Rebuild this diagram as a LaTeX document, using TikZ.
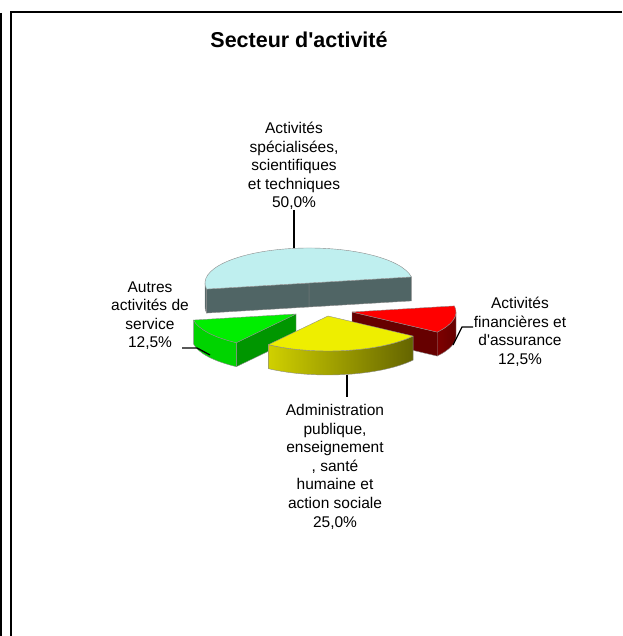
\documentclass[tikz,border=0pt]{standalone}
\usepackage{fontspec}
\setmainfont{Liberation Sans}
\usepackage{tikz}
\usetikzlibrary{calc}
\definecolor{cyantop}{HTML}{BFEFEF}
\definecolor{cyanside}{HTML}{506565}
\definecolor{greentop}{HTML}{00EE00}
\definecolor{greenside}{HTML}{00D400}
\definecolor{greencut}{HTML}{009600}
\definecolor{yellowtop}{HTML}{EEEE00}
\definecolor{yellowside}{HTML}{D0D000}
\definecolor{yellowdark}{HTML}{646400}
\definecolor{redtop}{HTML}{FF0000}
\definecolor{redside}{HTML}{7E0000}
\definecolor{redcut}{HTML}{660000}
\definecolor{edge}{HTML}{8C8C8C}
\tikzset{
  frameline/.style={draw=black, line width=2pt},
  face/.style={draw=edge, line width=0.4pt, line join=round},
  leader/.style={draw=black, line width=1.3pt},
  lbl/.style={font=\fontsize{15.5}{18.6}\selectfont, align=center, inner sep=0pt},
  ttl/.style={font=\bfseries\fontsize{21.5}{25}\selectfont, inner sep=0pt}
}

\begin{document}
\begin{tikzpicture}[x=1pt, y=1pt]
  \useasboundingbox (0,0) rectangle (622,636);
  \def\rx{104} \def\ry{35} \def\h{24}

  % frame
  \draw[frameline] (1,623) -- (1,0);
  \draw[frameline] (622,624) -- (11,624) -- (11,0);
  \node[ttl] (title) at (299,596) {Secteur d\textquotesingle activité};

  % back slice
  \coordinate (cC) at (309,353);
  \filldraw[face, fill=cyanside] (cC) -- ++({\rx*cos(10)},{\ry*sin(10)}) -- ++(0,-\h) -- ++({-\rx*cos(10)},{-\ry*sin(10)}) -- cycle;
  \filldraw[face, fill=cyanside] (cC) -- ++({\rx*cos(190)},{\ry*sin(190)}) -- ++(0,-\h) -- ++({-\rx*cos(190)},{-\ry*sin(190)}) -- cycle;
  \filldraw[face, fill=cyanside] ($(cC)+({\rx*cos(180)},{\ry*sin(180)})$) arc[start angle=180, end angle=190, x radius=\rx, y radius=\ry] -- ++(0,-\h) arc[start angle=190, end angle=180, x radius=\rx, y radius=\ry] -- cycle;
  \filldraw[face, fill=cyantop] (cC) -- ++({\rx*cos(10)},{\ry*sin(10)}) arc[start angle=10, end angle=190, x radius=\rx, y radius=\ry] -- cycle;

  % left slice
  \coordinate (cG) at (296,322);
  \filldraw[face, fill=greencut] (cG) -- ++({\rx*cos(235)},{\ry*sin(235)}) -- ++(0,-\h) -- ++({-\rx*cos(235)},{-\ry*sin(235)}) -- cycle;
  \filldraw[face, fill=greenside] ($(cG)+({\rx*cos(190)},{\ry*sin(190)})$) arc[start angle=190, end angle=235, x radius=\rx, y radius=\ry] -- ++(0,-\h) arc[start angle=235, end angle=190, x radius=\rx, y radius=\ry] -- cycle;
  \filldraw[face, fill=greentop] (cG) -- ++({\rx*cos(190)},{\ry*sin(190)}) arc[start angle=190, end angle=235, x radius=\rx, y radius=\ry] -- cycle;

  % right slice
  \coordinate (cR) at (352,324);
  \filldraw[face, fill=redcut] (cR) -- ++({\rx*cos(325)},{\ry*sin(325)}) -- ++(0,-\h) -- ++({-\rx*cos(325)},{-\ry*sin(325)}) -- cycle;
  \shadedraw[face, left color=redside, right color=redcut] ($(cR)+({\rx*cos(325)},{\ry*sin(325)})$) arc[start angle=325, end angle=360, x radius=\rx, y radius=\ry] -- ++(0,-\h) arc[start angle=360, end angle=325, x radius=\rx, y radius=\ry] -- cycle;
  \filldraw[face, fill=redtop] (cR) -- ++({\rx*cos(325)},{\ry*sin(325)}) arc[start angle=325, end angle=370, x radius=\rx, y radius=\ry] -- cycle;

  % front slice
  \coordinate (cY) at (328,320);
  \shadedraw[face, left color=yellowside, right color=yellowdark] ($(cY)+({\rx*cos(235)},{\ry*sin(235)})$) arc[start angle=235, end angle=325, x radius=\rx, y radius=\ry] -- ++(0,-\h) arc[start angle=325, end angle=235, x radius=\rx, y radius=\ry] -- cycle;
  \filldraw[face, fill=yellowtop] (cY) -- ++({\rx*cos(235)},{\ry*sin(235)}) arc[start angle=235, end angle=325, x radius=\rx, y radius=\ry] -- cycle;

  % labels
  \node[lbl, anchor=south] (lblA) at (294,426) {Activités\\spécialisées,\\scientifiques\\et techniques\\50,0\%};
  \node[lbl, anchor=south] (lblB) at (150,286) {Autres\\activités de\\service\\12,5\%};
  \node[lbl, anchor=north] (lblC) at (520,339) {Activités\\financières et\\d\textquotesingle assurance\\12,5\%};
  \node[lbl, anchor=north] (lblD) at (335,232) {Administration\\publique,\\enseignement\\, santé\\humaine et\\action sociale\\25,0\%};

  % leader lines
  \coordinate (pA) at ($(cC)+({\rx*cos(98)},{\ry*sin(98)})$);
  \draw[leader] (lblA.south) -- (lblA.south |- pA);
  \coordinate (bA) at (182,288);
  \coordinate (bB) at (197,288);
  \coordinate (pB) at (210,281);
  \draw[leader] (bA) -- (bB) -- (pB);
  \coordinate (rA) at (473,309);
  \coordinate (rB) at (462,309);
  \coordinate (pC) at (453,291);
  \draw[leader] (rA) -- (rB) -- (pC);
  \coordinate (yA) at (347,239);
  \coordinate (pD) at (347,261);
  \draw[leader] (yA) -- (pD);
\end{tikzpicture}
\end{document}
